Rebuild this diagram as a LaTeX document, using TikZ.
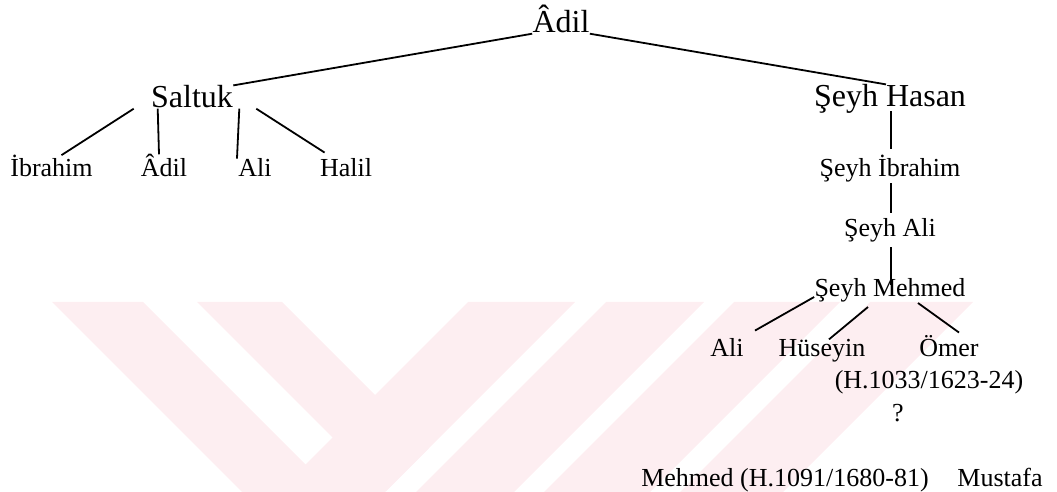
\documentclass[tikz,border=0pt]{standalone}
\usepackage{fontspec}
\setmainfont{Liberation Serif}
\definecolor{watermark}{RGB}{253,238,241}
\tikzset{
    person/.style={inner sep=0pt, anchor=base, font=\fontsize{13}{15}\selectfont},
    elder/.style={person, font=\fontsize{16}{19}\selectfont},
    link/.style={line width=0.9pt},
}

\begin{document}
\begin{tikzpicture}[x=0.5pt,y=-0.5pt]
    \useasboundingbox (0,0) rectangle (1057,492);
    % watermark
    \fill[watermark] (52,302) -- (143,302) -- (333,492) -- (242,492) -- cycle;
    \fill[watermark] (197,302) -- (282,302) -- (428.5,448.5) -- (386,491) -- cycle;
    \fill[watermark] (468,302) -- (575,302) -- (385,492) -- (278,492) -- cycle;
    \fill[watermark] (606,302) -- (704,302) -- (514,492) -- (416,492) -- cycle;
    \fill[watermark] (734,302) -- (840,302) -- (650,492) -- (544,492) -- cycle;
    \fill[watermark] (870,302) -- (973,302) -- (783,492) -- (680,492) -- cycle;

    \node[elder] (adil) at (561,33) {Âdil};
    \node[elder] (saltuk) at (192,108) {Saltuk};
    \node[elder] (hasan) at (890,107) {Şeyh Hasan};

    \node[person] (ibrahimA) at (51.5,177) {İbrahim};
    \node[person] (adilA) at (164,177) {Âdil};
    \node[person] (aliA) at (255,177) {Ali};
    \node[person] (halil) at (346,177) {Halil};

    \node[person] (ibrahimB) at (890,177) {Şeyh İbrahim};
    \node[person] (aliB) at (890,237) {Şeyh Ali};
    \node[person] (mehmed) at (890,297) {Şeyh Mehmed};
    \node[person] (aliC) at (727,357) {Ali};
    \node[person] (huseyin) at (822,357) {Hüseyin};
    \node[person] (omer) at (949,357) {Ömer};
    \node[person] (omerdate) at (929,388) {(H.1033/1623-24)};
    \node[person] (unknown) at (898,422) {?};
    \node[person] (mehmedB) at (785,487) {Mehmed (H.1091/1680-81)};
    \node[person] (mustafa) at (1000,487) {Mustafa};

    \draw[link] (adil.south west) -- (saltuk.north east);
    \draw[link] (adil.south east) -- ([xshift=-2pt]hasan.north);

    \draw[link] ([xshift=-8.5pt]saltuk.south west) -- ([xshift=5pt]ibrahimA.north);
    \draw[link] ([xshift=3.5pt]saltuk.south west) -- ([xshift=-2.5pt]adilA.north);
    \draw[link] ([xshift=3pt]saltuk.south east) -- ([xshift=-0.5pt]aliA.north west);
    \draw[link] ([xshift=11.5pt]saltuk.south east) -- ([xshift=2.5pt,yshift=3pt]halil.north west);

    \draw[link] ([xshift=0.5pt,yshift=1.5pt]hasan.south) -- ([xshift=0.5pt,yshift=3pt]ibrahimB.north);
    \draw[link] ([xshift=0.5pt]ibrahimB.south) -- ([xshift=0.5pt,yshift=3pt]aliB.north);
    \draw[link] ([xshift=0.5pt,yshift=-2pt]aliB.south) -- ([xshift=0.5pt,yshift=-3pt]mehmed.north);

    \draw[link] (mehmed.base west) -- ([xshift=5.5pt,yshift=4pt]aliC.north east);
    \draw[link] ([xshift=-11pt,yshift=-2pt]mehmed.south) -- ([xshift=3.5pt]huseyin.north);
    \draw[link] ([xshift=14pt]mehmed.south) -- ([xshift=5pt,yshift=1.5pt]omer.north);
\end{tikzpicture}
\end{document}
